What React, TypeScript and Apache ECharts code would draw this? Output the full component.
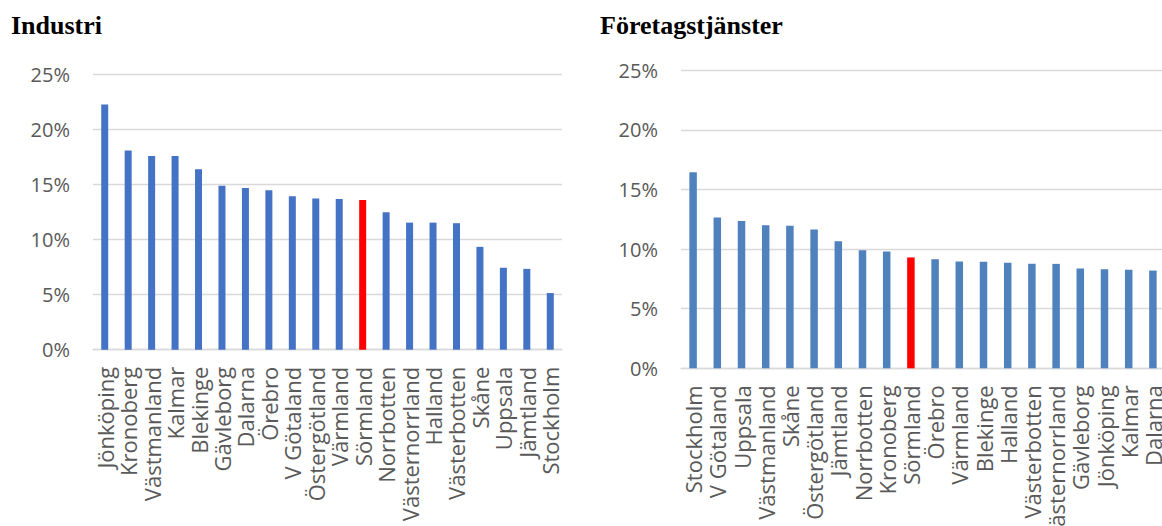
import React, { useEffect, useRef } from "react";
import * as echarts from "echarts";

const industriTitle = "Industri";
const industriCategories = [
  "Jönköping", "Kronoberg", "Västmanland", "Kalmar", "Blekinge", "Gävleborg", "Dalarna",
  "Örebro", "V Götaland", "Östergötland", "Värmland", "Sörmland", "Norrbotten",
  "Västernorrland", "Halland", "Västerbotten", "Skåne", "Uppsala", "Jämtland", "Stockholm",
];
const industriValues = [
  22.3, 18.1, 17.6, 17.6, 16.4, 14.9, 14.7, 14.5, 13.95, 13.75, 13.7, 13.6, 12.5,
  11.55, 11.55, 11.5, 9.35, 7.45, 7.35, 5.15,
];

const tjansterTitle = "Företagstjänster";
const tjansterCategories = [
  "Stockholm", "V Götaland", "Uppsala", "Västmanland", "Skåne", "Östergötland", "Jämtland",
  "Norrbotten", "Kronoberg", "Sörmland", "Örebro", "Värmland", "Blekinge", "Halland",
  "Västerbotten", "Västernorrland", "Gävleborg", "Jönköping", "Kalmar", "Dalarna",
];
const tjansterValues = [
  16.45, 12.65, 12.35, 12.0, 11.95, 11.65, 10.65, 9.9, 9.8, 9.3, 9.15, 8.95, 8.93, 8.85,
  8.77, 8.76, 8.37, 8.31, 8.26, 8.2,
];

const yTicks = [0, 5, 10, 15, 20, 25];
const highlight = "Sörmland";

const labelFont = "'Open Sans', 'Noto Sans', sans-serif";
const gridColor = "#D9D9D9";
const textColor = "#595959";

function makeData(cats: string[], vals: number[], base: string) {
  return vals.map((v, i) => ({
    value: v,
    itemStyle: { color: cats[i] === highlight ? "#FF0000" : base },
  }));
}

export default function App() {
  const ref = useRef<HTMLDivElement>(null);
  useEffect(() => {
    if (!ref.current) return;
    const chart = echarts.init(ref.current, null, { renderer: "svg" });
    const yAxisCommon = {
      type: "value" as const,
      min: yTicks[0],
      max: yTicks[yTicks.length - 1],
      interval: 5,
      axisLine: { show: false },
      axisTick: { show: false },
      splitLine: { lineStyle: { color: gridColor, width: 1.3 } },
      axisLabel: {
        formatter: (v: number) => `${v}%`,
        color: textColor,
        fontSize: 20,
        fontFamily: labelFont,
        margin: 23,
      },
    };
    const xAxisCommon = {
      type: "category" as const,
      axisLine: { show: true, lineStyle: { color: gridColor, width: 1.3 } },
      axisTick: { show: false },
      axisLabel: {
        rotate: 90,
        interval: 0,
        color: textColor,
        fontSize: 22,
        fontFamily: labelFont,
        margin: 17,
      },
    };
    const titleStyle = {
      fontFamily: "'Liberation Serif', 'Times New Roman', serif",
      fontWeight: "bold" as const,
      fontSize: 26,
      color: "#000",
    };
    chart.setOption({
      animation: false,
      title: [
        { text: industriTitle, left: 6, top: 7, textStyle: titleStyle },
        { text: tjansterTitle, left: 595, top: 7, textStyle: titleStyle },
      ],
      grid: [
        { left: 93, top: 74.7, width: 469, height: 275, containLabel: false, outerBoundsMode: "none" },
        { left: 681, top: 70.3, width: 484, height: 298, containLabel: false, outerBoundsMode: "none" },
      ],
      xAxis: [
        { ...xAxisCommon, gridIndex: 0, data: industriCategories },
        { ...xAxisCommon, gridIndex: 1, data: tjansterCategories },
      ],
      yAxis: [
        { ...yAxisCommon, gridIndex: 0 },
        { ...yAxisCommon, gridIndex: 1 },
      ],
      series: [
        {
          type: "bar",
          xAxisIndex: 0,
          yAxisIndex: 0,
          barWidth: 7,
          data: makeData(industriCategories, industriValues, "#4472C4"),
        },
        {
          type: "bar",
          xAxisIndex: 1,
          yAxisIndex: 1,
          barWidth: 7.5,
          data: makeData(tjansterCategories, tjansterValues, "#4F81BD"),
        },
      ],
    });
    return () => chart.dispose();
  }, []);
  return (
    <div
      ref={ref}
      style={{ position: "fixed", left: 0, top: 0, width: 1162, height: 526, background: "#fff" }}
    />
  );
}
